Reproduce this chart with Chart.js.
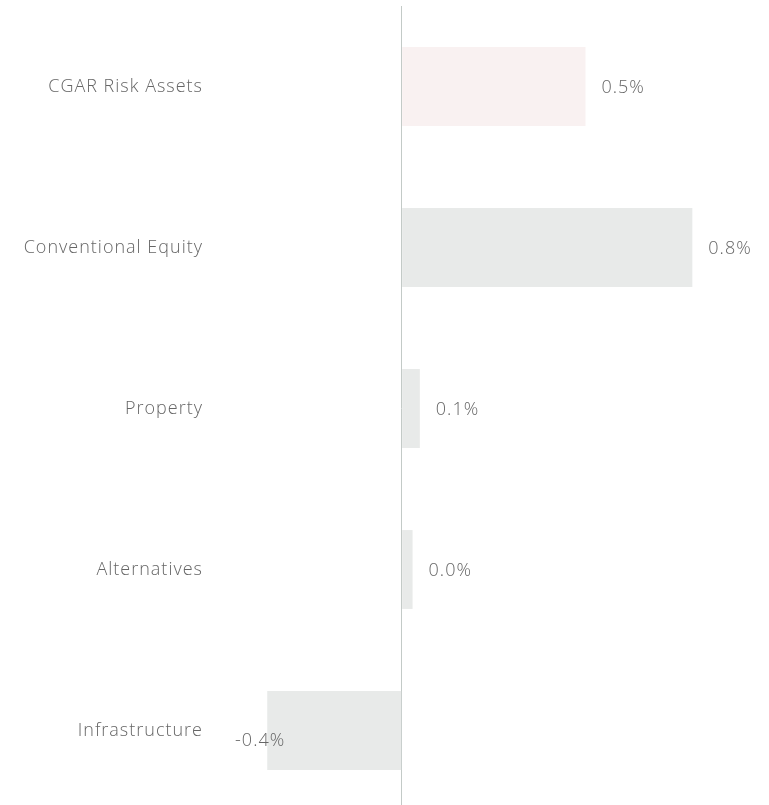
<!DOCTYPE html>
<html>
<head>
<meta charset="utf-8">
<script src="https://cdn.jsdelivr.net/npm/chart.js@4/dist/chart.umd.min.js"></script>
<style>
  html, body { margin: 0; padding: 0; background: #fff; overflow: hidden; }
  #wrap { width: 769px; height: 811px; position: relative; }
</style>
</head>
<body>
<div id="wrap"><canvas id="grafico"></canvas></div>
<script>
var categorias = ["CGAR Risk Assets", "Conventional Equity", "Property", "Alternatives", "Infrastructure"];
var valores = [0.506, 0.8, 0.05, 0.03, -0.37];
var rotulos = ["0.5%", "0.8%", "0.1%", "0.0%", "-0.4%"];
var cores = ["#f9f1f1", "#e8eae9", "#e8eae9", "#e8eae9", "#e8eae9"];

var fonte = "'Open Sans', sans-serif";

// espaçamento entre letras, como no original
var espacoPlugin = {
    id: "espaco",
    beforeUpdate: function (chart) { chart.ctx.letterSpacing = "1px"; },
    beforeDraw: function (chart) { chart.ctx.letterSpacing = "1px"; }
};

// escreve o valor ao lado de cada barra
var rotulosPlugin = {
    id: "rotulos",
    afterDatasetsDraw: function (chart) {
        var ctx = chart.ctx;
        var meta = chart.getDatasetMeta(0);
        ctx.save();
        ctx.letterSpacing = "1px";
        ctx.font = "300 18px " + fonte;
        ctx.fillStyle = "#666";
        ctx.textBaseline = "middle";
        meta.data.forEach(function (barra, i) {
            if (valores[i] >= 0) {
                ctx.textAlign = "left";
                ctx.fillText(rotulos[i], barra.x + 16, barra.y + 1);
            } else {
                ctx.textAlign = "right";
                ctx.fillText(rotulos[i], barra.x + 18, barra.y + 10);
            }
        });
        ctx.restore();
    }
};

var ctx = document.getElementById("grafico").getContext("2d");
new Chart(ctx, {
    type: "bar",
    data: {
        labels: categorias,
        datasets: [{
            data: valores,
            backgroundColor: cores,
            borderWidth: 0,
            barPercentage: 0.49,
            categoryPercentage: 1.0
        }]
    },
    options: {
        indexAxis: "y",
        responsive: true,
        maintainAspectRatio: false,
        animation: false,
        layout: { padding: { top: 6, right: 4, bottom: 0, left: 0 } },
        plugins: {
            legend: { display: false },
            tooltip: { enabled: false }
        },
        scales: {
            x: {
                min: -0.5,
                max: 1.0,
                afterFit: function (escala) {
                    escala.height = 0;
                    escala.paddingLeft = 0;
                    escala.paddingRight = 0;
                },
                ticks: { display: false, stepSize: 0.5 },
                border: { display: false },
                grid: {
                    drawTicks: false,
                    lineWidth: 1,
                    color: function (c) {
                        return c.tick && c.tick.value === 0 ? "#c3cac7" : "rgba(0,0,0,0)";
                    }
                }
            },
            y: {
                afterFit: function (escala) {
                    escala.width = 220;
                    escala.paddingTop = 0;
                    escala.paddingBottom = 0;
                },
                border: { display: false },
                grid: { display: false, drawTicks: false },
                ticks: {
                    padding: 17,
                    color: "#666",
                    font: { family: fonte, size: 18, weight: "300" }
                }
            }
        }
    },
    plugins: [espacoPlugin, rotulosPlugin]
});
</script>
</body>
</html>
